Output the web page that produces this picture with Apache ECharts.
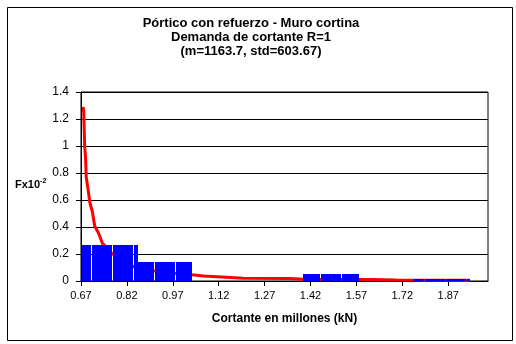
<!DOCTYPE html>
<html>
<head>
<meta charset="utf-8">
<script src="https://cdn.jsdelivr.net/npm/echarts@6/dist/echarts.min.js"></script>
<style>
  html, body { margin: 0; padding: 0; background: #fff; }
  #chart { width: 516px; height: 344px; }
</style>
</head>
<body>
<div id="chart"></div>
<script>
// histogram bins (x in millions of kN, height in Fx10^-2)
var binStart = [0.672, 0.857, 1.396, 1.757];
var binEnd = [0.857, 1.033, 1.578, 1.94];
var binHeight = [0.27, 0.14, 0.052, 0.015];
// thin gaps between the columns inside the bins
var separators = [0.704, 0.772, 0.841, 0.909, 0.976, 1.452, 1.52, 1.79, 1.858, 1.927];

// fitted density curve
var curveX = [0.677, 0.679, 0.682, 0.685, 0.687, 0.694, 0.699, 0.707, 0.715, 0.727, 0.74, 0.773,
  0.841, 0.91, 0.975, 1.04, 1.07, 1.13, 1.2, 1.35, 1.4, 1.62, 1.7, 1.94];
var curveY = [1.29, 1.25, 1.0, 0.91, 0.77, 0.665, 0.58, 0.515, 0.405, 0.355, 0.28, 0.2,
  0.107, 0.074, 0.057, 0.045, 0.037, 0.03, 0.02, 0.018, 0.013, 0.012, 0.008, 0.006];

var xTicks = [0.67, 0.82, 0.97, 1.12, 1.27, 1.42, 1.57, 1.72, 1.87];

var titleLines = ["Pórtico con refuerzo - Muro cortina", "Demanda de cortante R=1", "(m=1163.7, std=603.67)"];

var font = "Liberation Sans, Arial, sans-serif";
var myChart = echarts.init(document.getElementById("chart"));

function renderBin(params, api) {
  var x0 = api.value(0), x1 = api.value(1), h = api.value(2);
  var p0 = api.coord([x0, 0]), p1 = api.coord([x1, h]);
  var edges = [Math.round(p0[0])];
  separators.forEach(function (s) {
    if (s > x0 && s < x1) edges.push(Math.round(api.coord([s, 0])[0]));
  });
  edges.push(Math.round(p1[0]));
  var top = Math.round(p1[1]), bottom = Math.round(p0[1]);
  var children = [];
  for (var i = 0; i < edges.length - 1; i++) {
    var left = edges[i] + (i > 0 ? 1 : 0);
    children.push({
      type: "rect",
      shape: { x: left, y: top, width: edges[i + 1] - left, height: bottom - top },
      style: { fill: "#0000ff" }
    });
  }
  return { type: "group", children: children };
}

var option = {
  backgroundColor: "#fff",
  animation: false,
  textStyle: { fontFamily: font },
  grid: {
    left: 81, top: 92, width: 407, height: 189,
    show: true, borderColor: "#000", borderWidth: 1, backgroundColor: "#fff"
  },
  xAxis: {
    type: "value",
    min: 0.67,
    max: 2.0,
    name: "Cortante en millones (kN)",
    nameLocation: "middle",
    nameGap: 32,
    nameTextStyle: { fontFamily: font, fontSize: 12, fontWeight: "bold", color: "#000" },
    axisLine: { lineStyle: { color: "#000", width: 1 } },
    axisTick: { customValues: xTicks, length: 5, lineStyle: { color: "#000" } },
    axisLabel: {
      customValues: xTicks,
      fontFamily: font, fontSize: 11, color: "#000", margin: 9,
      formatter: function (v) { return v.toFixed(2); }
    },
    splitLine: { show: false }
  },
  yAxis: {
    type: "value",
    min: 0,
    max: 1.4,
    interval: 0.2,
    axisLine: { show: true, lineStyle: { color: "#000", width: 1 } },
    axisTick: { show: true, length: 5, lineStyle: { color: "#000" } },
    axisLabel: { fontFamily: font, fontSize: 12, color: "#000", margin: 12 },
    splitLine: { lineStyle: { color: "#000", width: 1 } }
  },
  graphic: [
    {
      type: "rect", left: 5, top: 5, silent: true,
      shape: { width: 505, height: 333 },
      style: { fill: null, stroke: "#000", lineWidth: 1 }
    },
    {
      type: "text", x: 251, y: 37, silent: true,
      style: {
        text: titleLines.join("\n"), fill: "#000", font: "bold 13px " + font,
        align: "center", verticalAlign: "middle", lineHeight: 14
      }
    },
    {
      type: "text", x: 15, y: 185, silent: true,
      style: {
        text: "{a|Fx10}{b|-2}",
        verticalAlign: "middle",
        rich: {
          a: { fontFamily: font, fontSize: 11, fontWeight: "bold", color: "#000" },
          b: { fontFamily: font, fontSize: 7, fontWeight: "bold", color: "#000", verticalAlign: "top", lineHeight: 14 }
        }
      }
    }
  ],
  series: [
    {
      type: "line",
      z: 1,
      data: curveX.map(function (x, i) { return [x, curveY[i]]; }),
      showSymbol: false,
      lineStyle: { color: "#ff0000", width: 3 }
    },
    {
      type: "custom",
      z: 2,
      renderItem: renderBin,
      encode: { x: [0, 1], y: 2 },
      data: binStart.map(function (s, i) { return [s, binEnd[i], binHeight[i]]; })
    }
  ]
};

myChart.setOption(option);
</script>
</body>
</html>
